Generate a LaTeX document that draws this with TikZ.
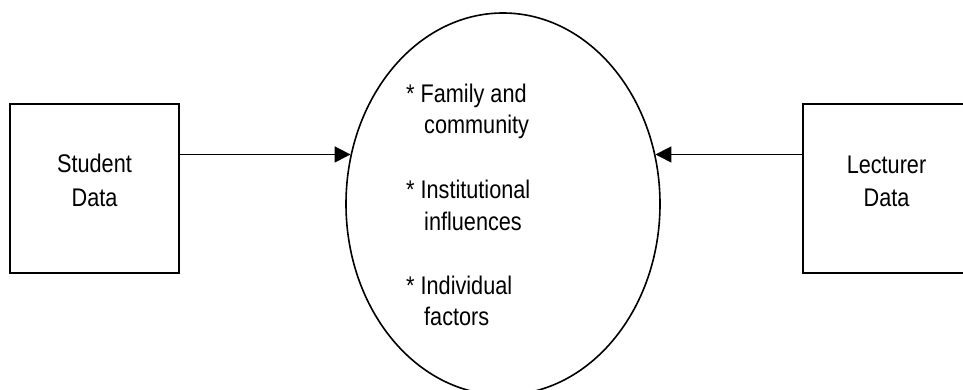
\documentclass[tikz,border=0pt]{standalone}
\usepackage{fontspec}
\setmainfont{Liberation Sans}[FakeStretch=0.85]
\usetikzlibrary{shapes.geometric,arrows.meta}
\tikzset{
  databox/.style={draw, line width=2pt, rectangle, inner sep=0pt, minimum width=169pt, minimum height=169pt},
  factor/.style={draw, line width=1.6pt, ellipse, inner sep=0pt, minimum width=314pt, minimum height=382pt},
  lbl/.style={inner sep=0pt, font=\fontsize{25.5}{30}\selectfont},
  flow/.style={line width=1.6pt, -{Triangle[length=16pt,width=16pt]}}
}
\begin{document}
\begin{tikzpicture}[x=1pt,y=-1pt]
\useasboundingbox (0,0) rectangle (963,390);
\clip (0,0) rectangle (963,390);
\node[databox] (sd) at (94.5,188.5) {};
\node[databox, minimum width=167pt] (ld) at (886.5,188.5) {};
\node[factor] (el) at (503,204) {};
\node[lbl, anchor=base] (sdt1) at (94.5,173) {Student};
\node[lbl, anchor=base] (sdt2) at (94.5,206) {Data};
\node[lbl, anchor=base] (ldt1) at (886.5,174) {Lecturer};
\node[lbl, anchor=base] (ldt2) at (886.5,206) {Data};
\node[lbl, anchor=base west] (f1a) at (406,103) {* Family and};
\node[lbl, anchor=base west] (f1b) at (424,134) {community};
\node[lbl, anchor=base west] (f2a) at (406,199) {* Institutional};
\node[lbl, anchor=base west] (f2b) at (424,230) {influences};
\node[lbl, anchor=base west] (f3a) at (406,294) {* Individual};
\node[lbl, anchor=base west] (f3b) at (424,325) {factors};
\draw[flow] (sd.east |- el.162) -- (el.162);
\draw[flow] (ld.west |- el.18) -- (el.18);
\end{tikzpicture}
\end{document}
